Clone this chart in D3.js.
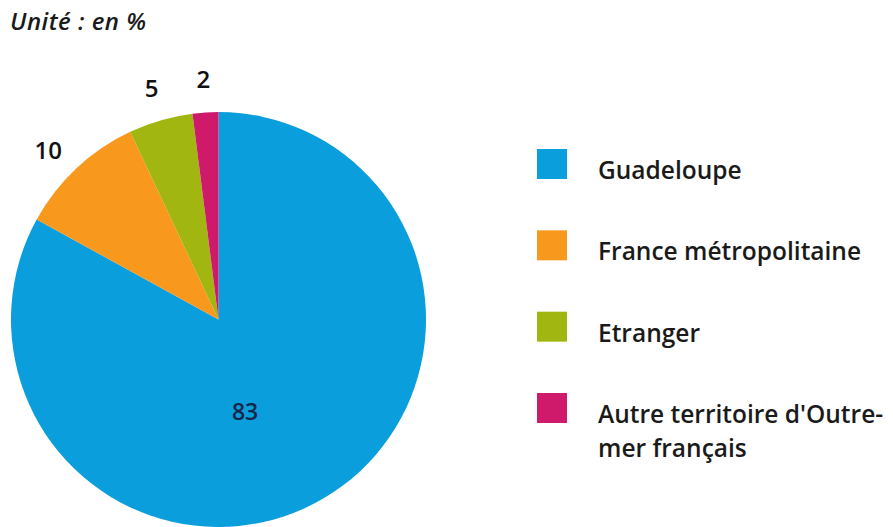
<!doctype html>
<html lang="fr">
<head>
  <meta charset="utf-8">
  <style>
    body { margin: 0; background: #fff; }
    svg text { font-family: "Open Sans", sans-serif; }
    .unit { font-size: 24px; font-style: italic; font-weight: 600; fill: #1a1a1a; letter-spacing: 0.5px; }
    .legend-label { font-size: 24.5px; font-weight: 600; fill: #1a1a1a; }
    .pct { font-size: 24px; font-weight: 600; fill: #111; }
  </style>
  <script src="https://d3js.org/d3.v7.min.js"></script>
</head>
<body>
  <script>
    // origine, en %
    const categories = ["Guadeloupe", "France métropolitaine", "Etranger", "Autre territoire d'Outre-mer français"];
    const legendLines = [["Guadeloupe"], ["France métropolitaine"], ["Etranger"], ["Autre territoire d'Outre-", "mer français"]];
    const values = [83, 10, 5, 2];
    const colors = ["#0b9edd", "#f8981d", "#a2b612", "#cf1a6c"];

    const width = 893, height = 527;
    const cx = 218.5, cy = 319.5, radius = 207.5;

    const svg = d3.select("body").append("svg")
        .attr("width", width)
        .attr("height", height);

    svg.append("text")
        .attr("class", "unit")
        .attr("x", 10)
        .attr("y", 30)
        .text("Unité : en %");

    const color = d3.scaleOrdinal().domain(categories).range(colors);

    const pie = d3.pie().sort(null).value(d => d.value);
    const data = categories.map((c, i) => ({ name: c, value: values[i] }));
    const arcs = pie(data);

    const arc = d3.arc().innerRadius(0).outerRadius(radius);
    const outerLabel = d3.arc().innerRadius(240).outerRadius(240);
    const innerLabel = d3.arc().innerRadius(180).outerRadius(180);

    const g = svg.append("g").attr("transform", `translate(${cx},${cy})`);

    g.selectAll("path")
        .data(arcs)
        .enter()
        .append("path")
        .attr("d", arc)
        .attr("fill", d => color(d.data.name));

    g.selectAll(".pct")
        .data(arcs)
        .enter()
        .append("text")
        .attr("class", "pct")
        .attr("text-anchor", "middle")
        .attr("dy", "0.35em")
        .attr("transform", (d, i) => {
          // la grande part a son libellé à l'intérieur
          const p = i === 0 ? innerLabel.centroid(d) : outerLabel.centroid(d);
          if (i === 0) return `translate(${p[0] - 65},${p[1] - 62})`;
          if (i === 1) return `translate(${p[0] - 6},${p[1] + 6})`;
          return `translate(${p[0]},${p[1]})`;
        })
        .style("font-size", (d, i) => i === 0 ? "23px" : null)
        .style("fill", (d, i) => i === 0 ? "#16284a" : null)
        .text(d => d.data.value);

    // légende
    const ly = d3.scalePoint().domain(categories).range([149, 393]);

    const legend = svg.append("g")
        .selectAll("g")
        .data(categories)
        .enter()
        .append("g")
        .attr("transform", d => `translate(537,${ly(d)})`);

    legend.append("rect")
        .attr("width", 30)
        .attr("height", 30)
        .attr("fill", d => color(d));

    // une ligne = un texte
    legend.selectAll(".legend-label")
        .data((d, i) => legendLines[i])
        .enter()
        .append("text")
        .attr("class", "legend-label")
        .attr("x", 61)
        .attr("y", (d, j) => 30 + j * 33.5)
        .text(d => d);
  </script>
</body>
</html>
